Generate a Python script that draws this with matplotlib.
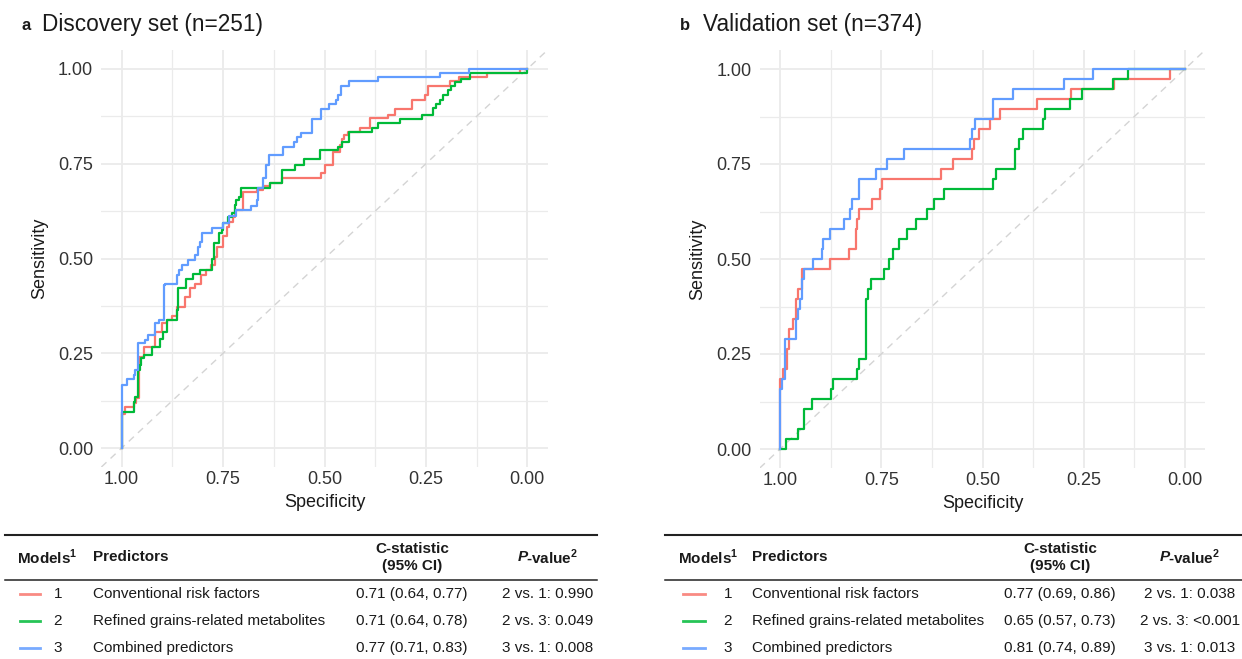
"""Two ROC panels (discovery / validation) with C-statistic tables underneath."""

import matplotlib

matplotlib.use("Agg")
import matplotlib.pyplot as plt

W, H = 1242, 659

# ---- data: (specificity, sensitivity) at the top of each step ----
DISC_RED_SPEC = [1.000, 1.000, 0.991, 0.970, 0.965, 0.958, 0.946, 0.917, 0.901, 0.888,
                 0.876, 0.863, 0.843, 0.832, 0.819, 0.804, 0.792, 0.781, 0.770, 0.766,
                 0.749, 0.741, 0.735, 0.726, 0.721, 0.702, 0.667, 0.651, 0.634, 0.606,
                 0.509, 0.499, 0.478, 0.463, 0.456, 0.452, 0.441, 0.412, 0.388, 0.343,
                 0.326, 0.285, 0.252, 0.244, 0.191, 0.168, 0.100, 0.018, 0.000]
DISC_RED_SENS = [0.000, 0.091, 0.109, 0.118, 0.131, 0.241, 0.267, 0.307, 0.329, 0.338,
                 0.348, 0.373, 0.399, 0.421, 0.434, 0.456, 0.470, 0.483, 0.505, 0.531,
                 0.559, 0.584, 0.597, 0.610, 0.628, 0.676, 0.682, 0.690, 0.698, 0.712,
                 0.725, 0.747, 0.782, 0.799, 0.814, 0.826, 0.835, 0.843, 0.870, 0.879,
                 0.894, 0.918, 0.931, 0.956, 0.967, 0.978, 0.989, 1.000, 1.000]

DISC_GREEN_SPEC = [1.000, 1.000, 0.970, 0.966, 0.960, 0.956, 0.952, 0.946, 0.925, 0.905,
                   0.899, 0.889, 0.864, 0.860, 0.841, 0.825, 0.807, 0.778, 0.772, 0.759,
                   0.753, 0.749, 0.737, 0.729, 0.721, 0.717, 0.710, 0.706, 0.634, 0.606,
                   0.573, 0.551, 0.511, 0.466, 0.458, 0.439, 0.384, 0.367, 0.314, 0.260,
                   0.232, 0.224, 0.215, 0.207, 0.195, 0.187, 0.178, 0.164, 0.141, 0.002,
                   0.000]
DISC_GREEN_SENS = [0.000, 0.096, 0.122, 0.135, 0.206, 0.219, 0.237, 0.245, 0.266, 0.287,
                   0.307, 0.338, 0.364, 0.421, 0.445, 0.458, 0.470, 0.500, 0.540, 0.566,
                   0.575, 0.593, 0.610, 0.619, 0.641, 0.654, 0.663, 0.685, 0.700, 0.733,
                   0.747, 0.763, 0.786, 0.793, 0.808, 0.835, 0.843, 0.857, 0.867, 0.879,
                   0.896, 0.908, 0.918, 0.931, 0.945, 0.956, 0.965, 0.974, 0.989, 1.000,
                   1.000]

DISC_BLUE_SPEC = [1.000, 1.000, 0.987, 0.970, 0.966, 0.960, 0.942, 0.935, 0.917, 0.909,
                  0.896, 0.892, 0.864, 0.858, 0.852, 0.836, 0.819, 0.813, 0.807, 0.801,
                  0.778, 0.749, 0.735, 0.717, 0.680, 0.667, 0.663, 0.651, 0.645, 0.637,
                  0.603, 0.575, 0.567, 0.559, 0.532, 0.509, 0.488, 0.472, 0.466, 0.460,
                  0.440, 0.367, 0.215, 0.145, 0.000]
DISC_BLUE_SENS = [0.000, 0.166, 0.181, 0.193, 0.206, 0.276, 0.285, 0.298, 0.329, 0.338,
                  0.430, 0.434, 0.456, 0.470, 0.482, 0.496, 0.509, 0.531, 0.544, 0.568,
                  0.580, 0.593, 0.613, 0.628, 0.639, 0.654, 0.685, 0.712, 0.747, 0.773,
                  0.795, 0.808, 0.821, 0.832, 0.867, 0.894, 0.908, 0.918, 0.931, 0.955,
                  0.967, 0.978, 0.989, 1.000, 1.000]

VAL_RED_SPEC = [1.000, 1.000, 0.993, 0.984, 0.977, 0.967, 0.960, 0.955, 0.947, 0.877,
                0.830, 0.813, 0.811, 0.804, 0.774, 0.753, 0.747, 0.603, 0.572, 0.527,
                0.521, 0.508, 0.481, 0.458, 0.366, 0.281, 0.175, 0.037, 0.000]
VAL_RED_SENS = [0.000, 0.184, 0.211, 0.263, 0.316, 0.342, 0.395, 0.421, 0.474, 0.500,
                0.526, 0.579, 0.605, 0.632, 0.658, 0.684, 0.711, 0.737, 0.763, 0.789,
                0.816, 0.842, 0.868, 0.895, 0.921, 0.947, 0.974, 1.000, 1.000]

VAL_GREEN_SPEC = [1.000, 0.985, 0.956, 0.941, 0.922, 0.875, 0.868, 0.811, 0.804, 0.788,
                  0.782, 0.776, 0.743, 0.731, 0.720, 0.705, 0.687, 0.663, 0.636, 0.621,
                  0.595, 0.473, 0.467, 0.420, 0.409, 0.399, 0.351, 0.346, 0.284, 0.255,
                  0.177, 0.140, 0.000]
VAL_GREEN_SENS = [0.000, 0.026, 0.053, 0.105, 0.132, 0.158, 0.184, 0.211, 0.237, 0.395,
                  0.421, 0.447, 0.474, 0.500, 0.526, 0.553, 0.579, 0.605, 0.632, 0.658,
                  0.684, 0.711, 0.737, 0.789, 0.816, 0.842, 0.868, 0.895, 0.921, 0.947,
                  0.974, 1.000, 1.000]

VAL_BLUE_SPEC = [1.000, 1.000, 0.995, 0.988, 0.960, 0.955, 0.951, 0.947, 0.942, 0.919,
                 0.897, 0.893, 0.877, 0.842, 0.827, 0.823, 0.804, 0.763, 0.735, 0.694,
                 0.531, 0.527, 0.519, 0.475, 0.424, 0.299, 0.226, 0.000]
VAL_BLUE_SENS = [0.000, 0.158, 0.184, 0.289, 0.342, 0.368, 0.395, 0.447, 0.474, 0.500,
                 0.526, 0.553, 0.579, 0.605, 0.632, 0.658, 0.711, 0.737, 0.763, 0.789,
                 0.816, 0.842, 0.868, 0.921, 0.947, 0.974, 1.000, 1.000]

TICKS = [1.00, 0.75, 0.50, 0.25, 0.00]
TICK_LABELS = ["1.00", "0.75", "0.50", "0.25", "0.00"]
MINOR_TICKS = [0.875, 0.625, 0.375, 0.125]

MODEL_NUMS = ["1", "2", "3"]
PREDICTORS = ["Conventional risk factors", "Refined grains-related metabolites",
              "Combined predictors"]
DISC_CSTAT = ["0.71 (0.64, 0.77)", "0.71 (0.64, 0.78)", "0.77 (0.71, 0.83)"]
DISC_PVAL = ["2 vs. 1: 0.990", "2 vs. 3: 0.049", "3 vs. 1: 0.008"]
VAL_CSTAT = ["0.77 (0.69, 0.86)", "0.65 (0.57, 0.73)", "0.81 (0.74, 0.89)"]
VAL_PVAL = ["2 vs. 1: 0.038", "2 vs. 3: <0.001", "3 vs. 1: 0.013"]

COLORS = ["#F8766D", "#00BA38", "#619CFF"]
TEXT = "#1a1a1a"
AXTEXT = "#333333"
GRID = "#ebebeb"

plt.rcParams["font.family"] = ["Liberation Sans", "DejaVu Sans"]
plt.rcParams["mathtext.fontset"] = "custom"
plt.rcParams["mathtext.rm"] = "Liberation Sans"
plt.rcParams["mathtext.bf"] = "Liberation Sans:bold"


def frac(x0, y0, x1, y1):
    return [x0 / W, 1 - y1 / H, (x1 - x0) / W, (y1 - y0) / H]


def roc_panel(ax, curves):
    ax.set_xlim(1.05, -0.05)
    ax.set_ylim(-0.05, 1.05)
    ax.set_xticks(TICKS)
    ax.set_xticklabels(TICK_LABELS)
    ax.set_yticks(TICKS)
    ax.set_yticklabels(TICK_LABELS)
    ax.set_xticks(MINOR_TICKS, minor=True)
    ax.set_yticks(MINOR_TICKS, minor=True)
    ax.grid(which="major", color=GRID, lw=1.3)
    ax.grid(which="minor", color=GRID, lw=0.9)
    ax.set_axisbelow(True)
    ax.tick_params(which="both", length=0, labelsize=13, labelcolor=AXTEXT)
    ax.tick_params(axis="x", pad=3)
    ax.tick_params(axis="y", pad=6)
    for s in ax.spines.values():
        s.set_visible(False)
    ax.plot([1.05, -0.05], [-0.05, 1.05], ls=(0, (5, 4)), color="#d4d4d4", lw=1.0,
            zorder=1)
    for (spec, sens), c in zip(curves, COLORS):
        ax.plot(spec, sens, drawstyle="steps-post", color=c, lw=1.6, zorder=2)
    ax.set_xlabel("Specificity", fontsize=13, color=TEXT, labelpad=4)
    ax.set_ylabel("Sensitivity", fontsize=13, color=TEXT, labelpad=7)


def draw_table(ov, left, right, xs, cstat, pval):
    sw0, sw1, xnum, xpred, xc, xp, xmod = xs
    ov.plot([left, right], [535, 535], color="#222222", lw=1.5)
    ov.plot([left, right], [580, 580], color="#222222", lw=1.1)
    fs = 11
    ov.text(xmod, 557, r"Models$^{\mathbf{1}}$", fontsize=fs, fontweight="bold",
            color=TEXT, ha="left", va="center")
    ov.text(xpred, 557, "Predictors", fontsize=fs, fontweight="bold", color=TEXT,
            ha="left", va="center")
    ov.text(xc, 549, "C-statistic", fontsize=fs, fontweight="bold", color=TEXT,
            ha="center", va="center")
    ov.text(xc, 566, "(95% CI)", fontsize=fs, fontweight="bold", color=TEXT,
            ha="center", va="center")
    r = fig.canvas.get_renderer()
    tp = ov.text(0, 557, "P", fontsize=fs, fontweight="bold", style="italic",
                 color=TEXT, ha="left", va="center")
    tv = ov.text(0, 557, r"-value$^{\mathbf{2}}$", fontsize=fs, fontweight="bold",
                 color=TEXT, ha="left", va="center")
    wp = tp.get_window_extent(r).width - 2
    wv = tv.get_window_extent(r).width
    start = xp - (wp + wv) / 2
    tp.set_x(start)
    tv.set_x(start + wp)
    for i, (c, n, p, cs, pv) in enumerate(zip(COLORS, MODEL_NUMS, PREDICTORS, cstat, pval)):
        y = 594 + 27 * i
        ov.plot([sw0, sw1], [y, y], color=c, lw=2.0, alpha=0.85)
        ov.text(xnum, y, n, fontsize=fs, color=TEXT, ha="center", va="center")
        ov.text(xpred, y, p, fontsize=fs, color=TEXT, ha="left", va="center")
        ov.text(xc, y, cs, fontsize=fs, color=TEXT, ha="center", va="center")
        ov.text(xp, y, pv, fontsize=fs, color=TEXT, ha="center", va="center")


fig = plt.figure(figsize=(W / 100, H / 100), dpi=100)

ax_a = fig.add_axes(frac(101.4, 50, 547.6, 467))
roc_panel(ax_a, [(DISC_RED_SPEC, DISC_RED_SENS), (DISC_GREEN_SPEC, DISC_GREEN_SENS),
                 (DISC_BLUE_SPEC, DISC_BLUE_SENS)])
ax_b = fig.add_axes(frac(759.8, 50, 1205.2, 468))
roc_panel(ax_b, [(VAL_RED_SPEC, VAL_RED_SENS), (VAL_GREEN_SPEC, VAL_GREEN_SENS),
                 (VAL_BLUE_SPEC, VAL_BLUE_SENS)])

ov = fig.add_axes([0, 0, 1, 1])
ov.set_xlim(0, W)
ov.set_ylim(H, 0)
ov.axis("off")

ov.text(22, 25, "a", fontsize=12, fontweight="bold", color=TEXT, ha="left", va="center")
ov.text(42, 24, "Discovery set (n=251)", fontsize=16.3, color=TEXT, ha="left", va="center")
ov.text(680, 25, "b", fontsize=12, fontweight="bold", color=TEXT, ha="left", va="center")
ov.text(703, 24, "Validation set (n=374)", fontsize=16.3, color=TEXT, ha="left", va="center")

draw_table(ov, 5, 597, (20, 40, 58, 93, 412, 548, 17), DISC_CSTAT, DISC_PVAL)
draw_table(ov, 665, 1242, (683, 705, 728, 752, 1060, 1190, 678), VAL_CSTAT, VAL_PVAL)

fig.savefig("out.png", dpi=100)
